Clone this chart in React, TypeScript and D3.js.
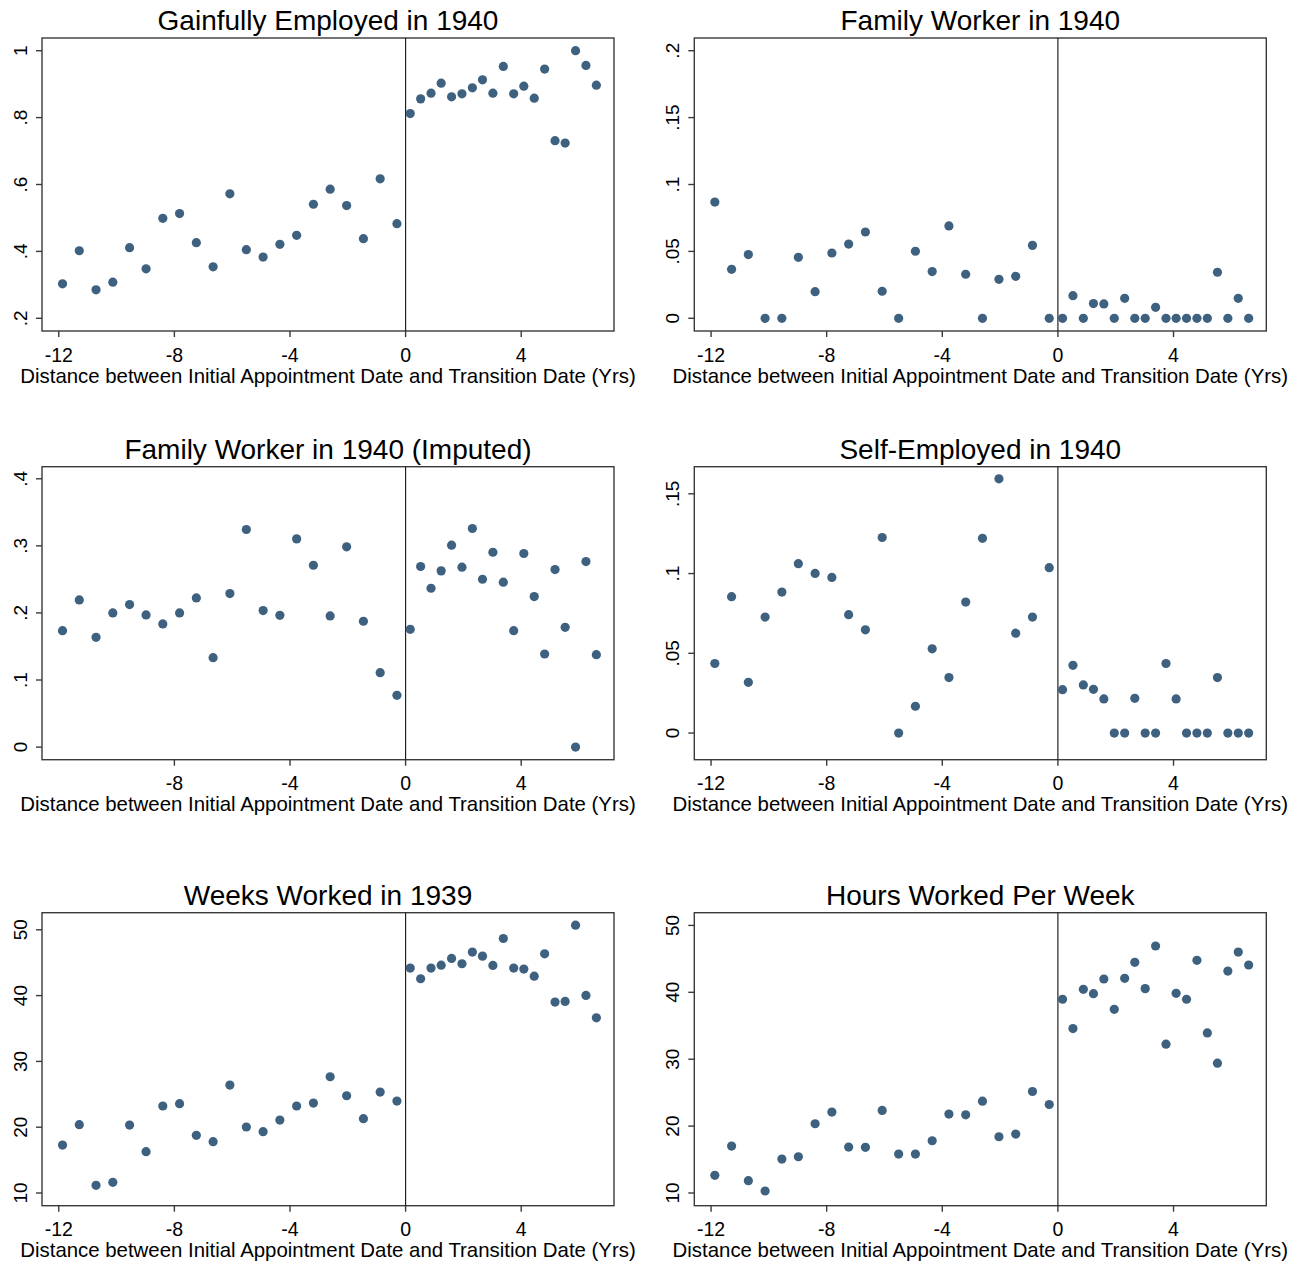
import * as d3 from 'd3';

// bin midpoints (years from transition date)
const X_LEFT = [-11.87, -11.29, -10.71, -10.13, -9.55, -8.98, -8.4, -7.82, -7.24, -6.66, -6.08,
  -5.51, -4.93, -4.35, -3.77, -3.19, -2.61, -2.04, -1.46, -0.88, -0.3];
const X_RIGHT = [0.16, 0.52, 0.88, 1.23, 1.59, 1.95, 2.31, 2.66, 3.02, 3.38, 3.74, 4.09, 4.45,
  4.81, 5.17, 5.52, 5.88, 6.24, 6.6];

const GAINFUL_L = [0.303, 0.402, 0.285, 0.308, 0.411, 0.348, 0.499, 0.513, 0.426, 0.354, 0.572,
  0.405, 0.383, 0.421, 0.448, 0.541, 0.586, 0.537, 0.438, 0.617, 0.483];
const GAINFUL_R = [0.812, 0.856, 0.873, 0.903, 0.862, 0.871, 0.889, 0.913, 0.873, 0.953, 0.871,
  0.894, 0.858, 0.945, 0.731, 0.724, 1.0, 0.956, 0.897];

const FAMILY_L = [0.0869, 0.0366, 0.0476, 0, 0, 0.0456, 0.0199, 0.0488, 0.0555, 0.0645, 0.0202,
  0, 0.0501, 0.0349, 0.069, 0.0329, 0, 0.0291, 0.0314, 0.0545, 0];
const FAMILY_R = [0, 0.0169, 0, 0.011, 0.0107, 0, 0.0149, 0, 0, 0.0082, 0, 0, 0, 0, 0, 0.0344,
  0, 0.0149, 0];

const IMPUTED_L = [0.1736, 0.2194, 0.1637, 0.2, 0.2124, 0.197, 0.1836, 0.2, 0.2224, 0.1333,
  0.2289, 0.3244, 0.2035, 0.1965, 0.3104, 0.2711, 0.1955, 0.2985, 0.1876, 0.111, 0.0771];
const IMPUTED_R = [0.1756, 0.2692, 0.2368, 0.2627, 0.301, 0.2682, 0.3259, 0.2502, 0.2905, 0.2458,
  0.1736, 0.2886, 0.2244, 0.1388, 0.2647, 0.1786, 0, 0.2766, 0.1378];

const SELF_L = [0.0436, 0.0855, 0.0318, 0.0727, 0.0884, 0.1062, 0.1001, 0.0976, 0.0742, 0.0647,
  0.1226, 0, 0.0168, 0.0528, 0.0348, 0.0821, 0.1221, 0.1594, 0.0626, 0.0727, 0.1037];
const SELF_R = [0.0272, 0.0425, 0.0302, 0.0274, 0.0214, 0, 0, 0.0218, 0, 0, 0.0436, 0.0214, 0, 0,
  0, 0.0348, 0, 0, 0];

const WEEKS_L = [17.29, 20.38, 11.16, 11.62, 20.33, 16.28, 23.22, 23.57, 18.76, 17.8, 26.4, 20.03,
  19.32, 21.09, 23.22, 23.67, 27.67, 24.78, 21.29, 25.34, 23.97];
const WEEKS_R = [44.18, 42.56, 44.18, 44.63, 45.65, 44.84, 46.61, 46.0, 44.58, 48.68, 44.18, 44.03,
  42.96, 46.35, 39.01, 39.11, 50.71, 40.03, 36.63];

const HOURS_L = [12.64, 17.01, 11.84, 10.3, 15.07, 15.42, 20.35, 22.09, 16.87, 16.82, 22.34, 15.82,
  15.82, 17.81, 21.79, 21.69, 23.73, 18.41, 18.81, 25.17, 23.23];
const HOURS_R = [38.96, 34.58, 40.45, 39.8, 41.99, 37.46, 42.09, 44.48, 40.55, 46.92, 32.24, 39.85,
  38.96, 44.78, 33.93, 29.4, 43.18, 46.02, 44.08];

const X_TICKS = [-12, -8, -4, 0, 4];
const X_TICKS_NO12 = [-8, -4, 0, 4];
const TITLES = ['Gainfully Employed in 1940', 'Family Worker in 1940', 'Family Worker in 1940 (Imputed)',
  'Self-Employed in 1940', 'Weeks Worked in 1939', 'Hours Worked Per Week'];
const X_LABEL = 'Distance between Initial Appointment Date and Transition Date (Yrs)';

const PANELS = [
  { title: TITLES[0], left: GAINFUL_L, right: GAINFUL_R, y: [0.162, 1.038], yTicks: [0.2, 0.4, 0.6, 0.8, 1], xTicks: X_TICKS },
  { title: TITLES[1], left: FAMILY_L, right: FAMILY_R, y: [-0.0095, 0.2095], yTicks: [0, 0.05, 0.1, 0.15, 0.2], xTicks: X_TICKS },
  { title: TITLES[2], left: IMPUTED_L, right: IMPUTED_R, y: [-0.0188, 0.418], yTicks: [0, 0.1, 0.2, 0.3, 0.4], xTicks: X_TICKS_NO12 },
  { title: TITLES[3], left: SELF_L, right: SELF_R, y: [-0.0167, 0.167], yTicks: [0, 0.05, 0.1, 0.15], xTicks: X_TICKS },
  { title: TITLES[4], left: WEEKS_L, right: WEEKS_R, y: [8.07, 52.6], yTicks: [10, 20, 30, 40, 50], xTicks: X_TICKS },
  { title: TITLES[5], left: HOURS_L, right: HOURS_R, y: [8.1, 51.9], yTicks: [10, 20, 30, 40, 50], xTicks: X_TICKS },
];

const W = 1304, H = 1263;
const COL_X = [42, 694.3];
const ROW_Y = [38, 466.7, 912.7];
const PW = 572, PH = 293;
const DOT = '#3e6180';
const FONT = '"Liberation Sans", Arial, Helvetica, sans-serif';

// Stata-style labels: .2 instead of 0.2
const fmt = (v: number) => (v === 0 ? '0' : String(v).replace(/^0\./, '.'));

function Panel({ p, x0, y0 }: { p: typeof PANELS[number]; x0: number; y0: number }) {
  const x = d3.scaleLinear().domain([-12.58, 7.21]).range([0, PW]);
  const y = d3.scaleLinear().domain(p.y).range([PH, 0]);
  const pts = [
    ...X_LEFT.map((v, i) => [v, p.left[i]]),
    ...X_RIGHT.map((v, i) => [v, p.right[i]]),
  ];
  return (
    <g transform={`translate(${x0},${y0})`}>
      <text x={PW / 2} y={-8} textAnchor="middle" fontSize={28} fill="#000">{p.title}</text>
      <rect x={0} y={0} width={PW} height={PH} fill="none" stroke="#3a3a3a" strokeWidth={1.4} />
      <line x1={x(0)} x2={x(0)} y1={0} y2={PH} stroke="#111" strokeWidth={1.1} />
      {p.yTicks.map(t => (
        <g key={t}>
          <line x1={-6} x2={0} y1={y(t)} y2={y(t)} stroke="#3a3a3a" strokeWidth={1.4} />
          <text transform={`translate(-15.5,${y(t)}) rotate(-90)`} textAnchor="middle" fontSize={19} fill="#000">{fmt(t)}</text>
        </g>
      ))}
      {p.xTicks.map(t => (
        <g key={t}>
          <line x1={x(t)} x2={x(t)} y1={PH} y2={PH + 6} stroke="#3a3a3a" strokeWidth={1.4} />
          <text x={x(t)} y={PH + 30.5} textAnchor="middle" fontSize={19.5} fill="#000">{t}</text>
        </g>
      ))}
      <text x={PW / 2} y={PH + 51.5} textAnchor="middle" fontSize={20.4} fill="#000">{X_LABEL}</text>
      {pts.map(([a, b], i) => (
        <circle key={i} cx={x(a)} cy={y(b)} r={4.6} fill={DOT} />
      ))}
    </g>
  );
}

export default function App() {
  return (
    <div style={{ position: 'absolute', left: 0, top: 0, background: '#fff' }}>
      <svg width={W} height={H} style={{ display: 'block', fontFamily: FONT }}>
        <rect width={W} height={H} fill="#fff" />
        {PANELS.map((p, i) => (
          <Panel key={i} p={p} x0={COL_X[i % 2]} y0={ROW_Y[Math.floor(i / 2)]} />
        ))}
      </svg>
    </div>
  );
}
